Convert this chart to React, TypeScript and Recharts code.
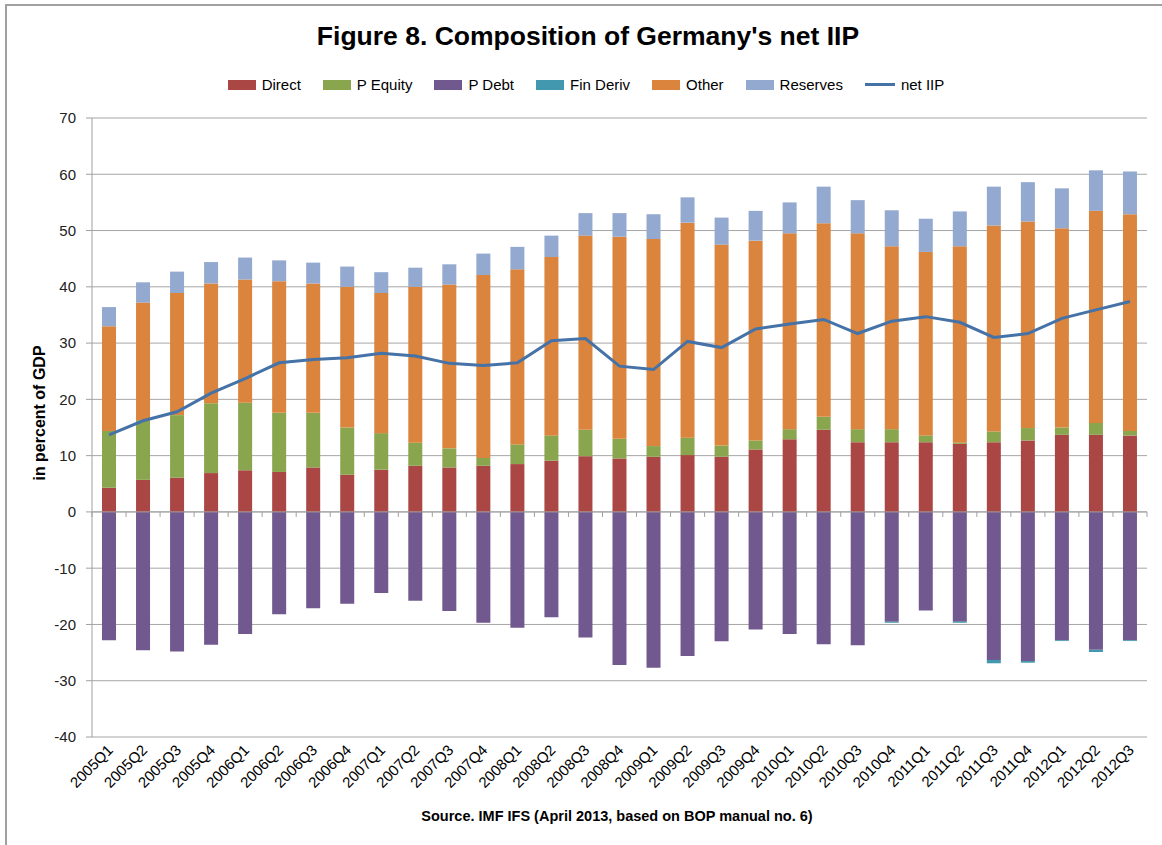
import React from "react";
import {
  ComposedChart,
  Bar,
  Line,
  XAxis,
  YAxis,
  CartesianGrid,
  ReferenceLine,
} from "recharts";

const quarters = [
  "2005Q1", "2005Q2", "2005Q3", "2005Q4",
  "2006Q1", "2006Q2", "2006Q3", "2006Q4",
  "2007Q1", "2007Q2", "2007Q3", "2007Q4",
  "2008Q1", "2008Q2", "2008Q3", "2008Q4",
  "2009Q1", "2009Q2", "2009Q3", "2009Q4",
  "2010Q1", "2010Q2", "2010Q3", "2010Q4",
  "2011Q1", "2011Q2", "2011Q3", "2011Q4",
  "2012Q1", "2012Q2", "2012Q3",
];

const direct = [
  4.3, 5.7, 6.1, 6.9, 7.4, 7.1, 7.9, 6.6, 7.5, 8.2, 7.9, 8.2, 8.5, 9.1, 9.9, 9.5,
  9.8, 10.1, 9.8, 11.1, 12.9, 14.6, 12.4, 12.4, 12.4, 12.1, 12.4, 12.7, 13.7, 13.7, 13.6,
];
const pEquity = [
  10.1, 10.6, 11.1, 12.4, 12.0, 10.5, 9.7, 8.4, 6.5, 4.1, 3.4, 1.4, 3.5, 4.5, 4.7, 3.5,
  1.9, 3.1, 2.0, 1.6, 1.8, 2.3, 2.3, 2.3, 1.2, 0.2, 1.9, 2.2, 1.3, 2.1, 0.8,
];
const pDebt = [
  -22.8, -24.6, -24.8, -23.6, -21.7, -18.2, -17.1, -16.3, -14.4, -15.8, -17.6, -19.7, -20.6, -18.7, -22.3, -27.2,
  -27.7, -25.6, -23.0, -20.9, -21.7, -23.5, -23.7, -19.5, -17.5, -19.5, -26.3, -26.5, -22.8, -24.5, -22.8,
];
const finDeriv = [
  0, 0, 0, 0, 0, 0, 0, 0, 0, 0, 0, 0, 0, 0, 0, 0,
  0, 0, 0, 0, 0, 0, 0, -0.2, 0, -0.2, -0.6, -0.3, -0.15, -0.4, -0.15,
];
const other = [
  18.6, 20.9, 21.7, 21.3, 21.9, 23.4, 23.0, 25.0, 24.9, 27.7, 29.1, 32.5, 31.1, 31.7, 34.5, 35.9,
  36.8, 38.2, 35.7, 35.5, 34.8, 34.4, 34.8, 32.5, 32.6, 34.9, 36.6, 36.7, 35.4, 37.7, 38.5,
];
const reserves = [
  3.4, 3.6, 3.8, 3.8, 3.9, 3.7, 3.7, 3.6, 3.7, 3.4, 3.6, 3.8, 4.0, 3.8, 4.0, 4.2,
  4.4, 4.5, 4.8, 5.3, 5.5, 6.5, 5.9, 6.4, 5.9, 6.2, 6.9, 7.0, 7.1, 7.2, 7.6,
];
const netIIP = [
  13.7, 16.2, 17.8, 21.1, 23.7, 26.5, 27.1, 27.4, 28.2, 27.7, 26.4, 26.0, 26.5, 30.4, 30.8, 25.9,
  25.3, 30.3, 29.2, 32.5, 33.4, 34.2, 31.7, 33.9, 34.7, 33.7, 31.0, 31.7, 34.4, 35.9, 37.4,
];

const yTicks = [-40, -30, -20, -10, 0, 10, 20, 30, 40, 50, 60, 70];

const barSeries = [
  { key: "direct", name: "Direct", color: "#AA4643", values: direct },
  { key: "pEquity", name: "P Equity", color: "#89A54E", values: pEquity },
  { key: "pDebt", name: "P Debt", color: "#71588F", values: pDebt },
  { key: "finDeriv", name: "Fin Deriv", color: "#4198AF", values: finDeriv },
  { key: "other", name: "Other", color: "#DB843D", values: other },
  { key: "reserves", name: "Reserves", color: "#93A9CF", values: reserves },
];
const lineColor = "#4572A7";

const data = quarters.map((q, i) => {
  const row: Record<string, number | string> = { q, netIIP: netIIP[i] };
  barSeries.forEach((s) => {
    row[s.key] = s.values[i];
  });
  return row;
});

const FONT = "'Liberation Sans', Arial, sans-serif";

const XTick = (props: any) => {
  const { x, y, payload } = props;
  const ax = x + 5;
  const ay = y + 6;
  return (
    <text
      x={ax}
      y={ay}
      transform={`rotate(-45 ${ax} ${ay})`}
      textAnchor="end"
      fontSize={15}
      fontFamily={FONT}
      fill="#000"
    >
      {payload.value}
    </text>
  );
};

const ZeroAxis = (props: any) => {
  const { x1, y1, x2 } = props;
  const n = quarters.length;
  const marks = [];
  for (let i = 0; i <= n; i++) {
    const tx = x1 + ((x2 - x1) * i) / n;
    marks.push(
      <line key={i} x1={tx} x2={tx} y1={y1} y2={y1 + 5} stroke="#A0A0A0" strokeWidth={1} />
    );
  }
  return (
    <g>
      <line x1={x1} x2={x2} y1={y1} y2={y1} stroke="#A0A0A0" strokeWidth={1} />
      {marks}
    </g>
  );
};

const Legend = () => (
  <div
    style={{
      position: "absolute",
      top: 76,
      left: 0,
      width: 1162,
      display: "flex",
      justifyContent: "center",
      alignItems: "center",
      fontFamily: FONT,
      fontSize: 15,
      color: "#000",
      paddingLeft: 10,
      boxSizing: "border-box",
    }}
  >
    {barSeries.map((s) => (
      <div key={s.key} style={{ display: "flex", alignItems: "center", marginRight: 22 }}>
        <span style={{ display: "inline-block", width: 28, height: 10, background: s.color, marginRight: 6 }} />
        <span>{s.name}</span>
      </div>
    ))}
    <div style={{ display: "flex", alignItems: "center" }}>
      <span style={{ display: "inline-block", width: 30, height: 3, background: lineColor, marginRight: 6 }} />
      <span>net IIP</span>
    </div>
  </div>
);

export default function App() {
  return (
    <div
      style={{
        position: "absolute",
        left: 0,
        top: 0,
        width: 1162,
        height: 845,
        overflow: "hidden",
        background: "#fff",
        fontFamily: FONT,
      }}
    >
      <div
        style={{
          position: "absolute",
          left: 5,
          top: 4,
          width: 1200,
          height: 900,
          borderLeft: "2px solid #A0A0A0",
          borderTop: "2px solid #A0A0A0",
        }}
      />
      <div
        style={{
          position: "absolute",
          top: 21,
          left: 0,
          width: 1162,
          paddingLeft: 14,
          boxSizing: "border-box",
          textAlign: "center",
          fontSize: 26.5,
          fontWeight: "bold",
          fontFamily: FONT,
          color: "#000",
        }}
      >
        Figure 8. Composition of Germany's net IIP
      </div>
      <Legend />
      <div
        style={{
          position: "absolute",
          left: 40,
          top: 413,
          transform: "translate(-50%, -50%) rotate(-90deg)",
          whiteSpace: "nowrap",
          fontSize: 16,
          fontWeight: "bold",
          fontFamily: FONT,
          color: "#000",
        }}
      >
        in percent of GDP
      </div>
      <div
        style={{
          position: "absolute",
          top: 808,
          left: 0,
          width: 1162,
          paddingLeft: 72,
          boxSizing: "border-box",
          textAlign: "center",
          fontSize: 14.5,
          fontWeight: "bold",
          fontFamily: FONT,
          color: "#000",
        }}
      >
        Source. IMF IFS (April 2013, based on BOP manual no. 6)
      </div>
      <div style={{ position: "absolute", left: 0, top: 0 }}>
        <ComposedChart
          width={1162}
          height={845}
          data={data}
          stackOffset="sign"
          barCategoryGap={0}
          margin={{ top: 118, right: 15, bottom: 48, left: 32 }}
        >
          <CartesianGrid vertical={false} stroke="#A6A6A6" strokeWidth={1} />
          <XAxis
            dataKey="q"
            interval={0}
            axisLine={false}
            tickLine={false}
            height={60}
            tick={<XTick />}
          />
          <YAxis
            domain={[-40, 70]}
            ticks={yTicks}
            interval={0}
            width={60}
            axisLine={{ stroke: "#A0A0A0" }}
            tickLine={{ stroke: "#A0A0A0" }}
            tickSize={6}
            tick={{ fontSize: 15, fill: "#222", fontFamily: FONT }}
            tickMargin={10}
          />
          {barSeries.map((s) => (
            <Bar
              key={s.key}
              dataKey={s.key}
              name={s.name}
              stackId="a"
              fill={s.color}
              barSize={14}
              isAnimationActive={false}
            />
          ))}
          <ReferenceLine y={0} shape={<ZeroAxis />} />
          <Line
            type="linear"
            dataKey="netIIP"
            name="net IIP"
            stroke={lineColor}
            strokeWidth={3}
            dot={false}
            activeDot={false}
            isAnimationActive={false}
          />
        </ComposedChart>
      </div>
    </div>
  );
}
